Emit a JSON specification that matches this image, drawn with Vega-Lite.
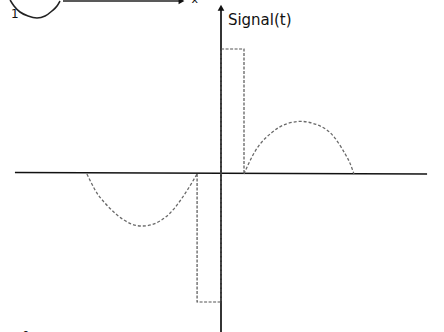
{
  "$schema": "https://vega.github.io/schema/vega-lite/v6.json",
  "width": 444,
  "height": 332,
  "autosize": {"type": "none"},
  "padding": 0,
  "background": "white",
  "config": {"view": {"stroke": null}},
  "datasets": {
    "axes": [
      {"axis": "t", "i": 1, "t": -8.96, "s": 0.012},
      {"axis": "t", "i": 2, "t": 8.96, "s": 0},
      {"axis": "signal", "i": 1, "t": 0, "s": 1.33},
      {"axis": "signal", "i": 2, "t": 0, "s": -1.3}
    ],
    "pulses": [
      {"i": 1, "t": -1.04, "s": 0},
      {"i": 2, "t": -1.04, "s": -1.024},
      {"i": 3, "t": 0, "s": -1.024},
      {"i": 4, "t": 0, "s": 1.0},
      {"i": 5, "t": 1.0, "s": 1.0},
      {"i": 6, "t": 1.0, "s": 0}
    ],
    "humps": [
      {"part": "neg", "t": -5.83, "s": 0},
      {"part": "neg", "t": -5.5, "s": -0.12},
      {"part": "neg", "t": -5.2, "s": -0.2},
      {"part": "neg", "t": -4.8, "s": -0.28},
      {"part": "neg", "t": -4.4, "s": -0.345},
      {"part": "neg", "t": -3.9, "s": -0.4},
      {"part": "neg", "t": -3.43, "s": -0.416},
      {"part": "neg", "t": -3.0, "s": -0.405},
      {"part": "neg", "t": -2.6, "s": -0.37},
      {"part": "neg", "t": -2.2, "s": -0.31},
      {"part": "neg", "t": -1.8, "s": -0.22},
      {"part": "neg", "t": -1.4, "s": -0.11},
      {"part": "neg", "t": -1.04, "s": 0},
      {"part": "pos", "t": 1.0, "s": 0},
      {"part": "pos", "t": 1.3, "s": 0.12},
      {"part": "pos", "t": 1.7, "s": 0.24},
      {"part": "pos", "t": 2.2, "s": 0.33},
      {"part": "pos", "t": 2.7, "s": 0.39},
      {"part": "pos", "t": 3.35, "s": 0.42},
      {"part": "pos", "t": 3.9, "s": 0.41},
      {"part": "pos", "t": 4.35, "s": 0.38},
      {"part": "pos", "t": 4.75, "s": 0.33},
      {"part": "pos", "t": 5.1, "s": 0.25},
      {"part": "pos", "t": 5.4, "s": 0.16},
      {"part": "pos", "t": 5.6, "s": 0.09},
      {"part": "pos", "t": 5.78, "s": 0}
    ],
    "sketch": [
      {"part": "curve", "i": 1, "t": -9.17, "s": 1.392},
      {"part": "curve", "i": 2, "t": -9.0, "s": 1.344},
      {"part": "curve", "i": 3, "t": -8.74, "s": 1.296},
      {"part": "curve", "i": 4, "t": -8.39, "s": 1.264},
      {"part": "curve", "i": 5, "t": -8.0, "s": 1.248},
      {"part": "curve", "i": 6, "t": -7.65, "s": 1.264},
      {"part": "curve", "i": 7, "t": -7.35, "s": 1.304},
      {"part": "curve", "i": 8, "t": -7.13, "s": 1.344},
      {"part": "curve", "i": 9, "t": -7.0, "s": 1.384},
      {"part": "arrow", "i": 1, "t": -6.87, "s": 1.384},
      {"part": "arrow", "i": 2, "t": -1.8, "s": 1.384}
    ],
    "heads": [
      {"shape": "triangle-up", "t": 0, "s": 1.33},
      {"shape": "triangle-right", "t": -1.72, "s": 1.384}
    ],
    "labels": [
      {"text": "Signal(t)", "t": 0.3, "s": 1.192, "size": 15},
      {"text": "1", "t": -9.13, "s": 1.245, "size": 12},
      {"text": "x", "t": -1.28, "s": 1.37, "size": 11},
      {"text": "0", "t": -8.65, "s": -1.325, "size": 12}
    ]
  },
  "encoding": {
    "x": {"field": "t", "type": "quantitative", "axis": null, "scale": {"domain": [-9.609, 9.696], "nice": false, "zero": false}},
    "y": {"field": "s", "type": "quantitative", "axis": null, "scale": {"domain": [-1.264, 1.392], "nice": false, "zero": false}}
  },
  "layer": [
    {
      "data": {"name": "axes"},
      "mark": {"type": "line", "color": "#111111", "strokeWidth": 1.7},
      "encoding": {"detail": {"field": "axis"}, "order": {"field": "i", "type": "quantitative"}}
    },
    {
      "data": {"name": "humps"},
      "mark": {"type": "line", "interpolate": "natural", "color": "#6a6a6a", "strokeWidth": 1.3, "strokeDash": [3, 2]},
      "encoding": {"detail": {"field": "part"}}
    },
    {
      "data": {"name": "pulses"},
      "mark": {"type": "line", "color": "#555555", "strokeWidth": 1.2, "strokeDash": [3, 1.5]},
      "encoding": {"order": {"field": "i", "type": "quantitative"}}
    },
    {
      "data": {"name": "sketch"},
      "mark": {"type": "line", "interpolate": "monotone", "color": "#222222", "strokeWidth": 1.6},
      "encoding": {"detail": {"field": "part"}, "order": {"field": "i", "type": "quantitative"}}
    },
    {
      "data": {"name": "heads"},
      "mark": {"type": "point", "filled": true, "color": "#111111", "opacity": 1, "size": 45},
      "encoding": {"shape": {"field": "shape", "type": "nominal", "scale": null, "legend": null}}
    },
    {
      "data": {"name": "labels"},
      "mark": {"type": "text", "align": "left", "baseline": "alphabetic", "font": "DejaVu Sans", "color": "#111111"},
      "encoding": {
        "text": {"field": "text"},
        "size": {"field": "size", "type": "quantitative", "scale": null, "legend": null}
      }
    }
  ]
}
